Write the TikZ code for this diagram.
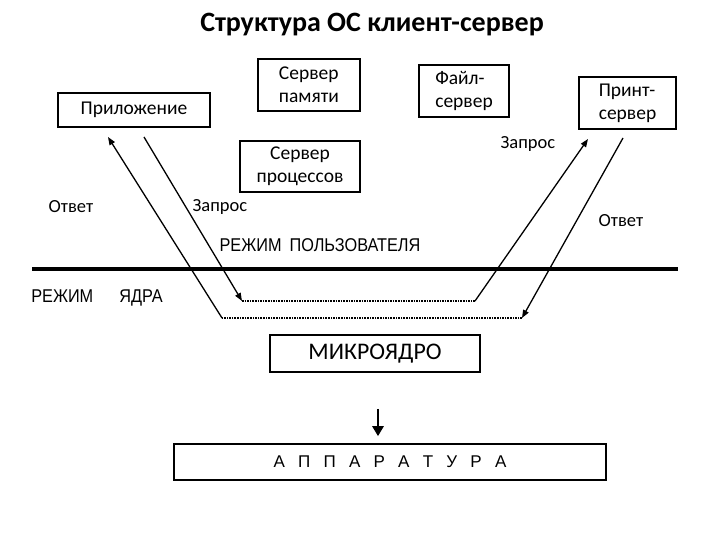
\documentclass[tikz,border=0pt]{standalone}
\usepackage{fontspec}
\setmainfont{Carlito}
\newfontfamily\narrowfont[FakeStretch=0.88]{Liberation Sans}
\newfontfamily\hwfont[WordSpace=2.8]{Liberation Sans}
\usetikzlibrary{arrows.meta}

\begin{document}
\begin{tikzpicture}[
    x=1pt, y=-1pt,
    srvBox/.style={draw, line width=1.6pt, inner sep=0pt, font=\fontsize{19.5}{23}\selectfont},
    ansLbl/.style={font=\fontsize{18.5}{21}\selectfont},
    modeLbl/.style={font=\narrowfont\fontsize{18.5}{21}\selectfont},
    arrConn/.style={line width=1.3pt, -{Triangle[length=8pt,width=6pt]}},
    plainConn/.style={line width=1.3pt},
    dotConn/.style={line width=1.6pt, densely dotted},
]
\useasboundingbox (0,0) rectangle (720,540);

% Title
\node[font=\bfseries\fontsize{28}{32}\selectfont] (title) at (372,25) {Структура ОС клиент-сервер};

% Servers
\node[srvBox, minimum width=152pt, minimum height=34pt] (app) at (134,110) {Приложение};
\node[srvBox, minimum width=102pt, minimum height=52pt, align=left] (memSrv) at (309,85) {Сервер\\памяти};
\node[srvBox, minimum width=120pt, minimum height=51pt, align=center] (procSrv) at (300,166.5) {Сервер\\процессов};
\node[srvBox, minimum width=90pt, minimum height=52pt, align=left] (fileSrv) at (464,91) {Файл-\\сервер};
\node[srvBox, minimum width=97pt, minimum height=52pt, align=left] (printSrv) at (627.5,103) {Принт-\\сервер};

% Mode line
\draw[line width=4pt] (32,269) -- (678,269);
\node[modeLbl] (userMode) at (320,245) {РЕЖИМ\hspace{8pt}ПОЛЬЗОВАТЕЛЯ};
\node[modeLbl] (kernMode) at (97,298) {РЕЖИМ\hspace{26pt}ЯДРА};

% Kernel and hardware
\node[srvBox, minimum width=210pt, minimum height=37pt, font=\fontsize{23.8}{27}\selectfont] (micro) at (375,353.5) {МИКРОЯДРО};
\node[srvBox, minimum width=432pt, minimum height=36pt, font=\hwfont\fontsize{17}{20}\selectfont] (hw) at (390,462) {А П П А Р А Т У Р А};
\draw[line width=2.6pt, -{Triangle[length=10pt,width=11pt]}, shorten <=36pt, shorten >=7pt]
    ([xshift=3pt]micro.south) -- ([xshift=3pt]micro.south |- hw.north);

% Request path
\coordinate (reqTop) at (144,137);
\coordinate (reqLow) at (242,301);
\coordinate (reqTurn) at (475,301);
\coordinate (reqEnd) at (588,139);
\draw[arrConn] (reqTop) -- (reqLow);
\draw[dotConn] (reqLow) -- (reqTurn);
\draw[arrConn] (reqTurn) -- (reqEnd);

% Answer path
\coordinate (ansTop) at (623,138);
\coordinate (ansLow) at (522,318);
\coordinate (ansTurn) at (222,318);
\coordinate (ansEnd) at (108,137);
\draw[arrConn] (ansTop) -- (ansLow);
\draw[dotConn] (ansLow) -- (ansTurn);
\draw[arrConn] (ansTurn) -- (ansEnd);

% Labels
\node[ansLbl] (ansL) at (71,207) {Ответ};
\node[ansLbl] (reqL) at (220,207) {Запрос};
\node[ansLbl] (reqR) at (528,144) {Запрос};
\node[ansLbl] (ansR) at (621,221) {Ответ};
\end{tikzpicture}
\end{document}
